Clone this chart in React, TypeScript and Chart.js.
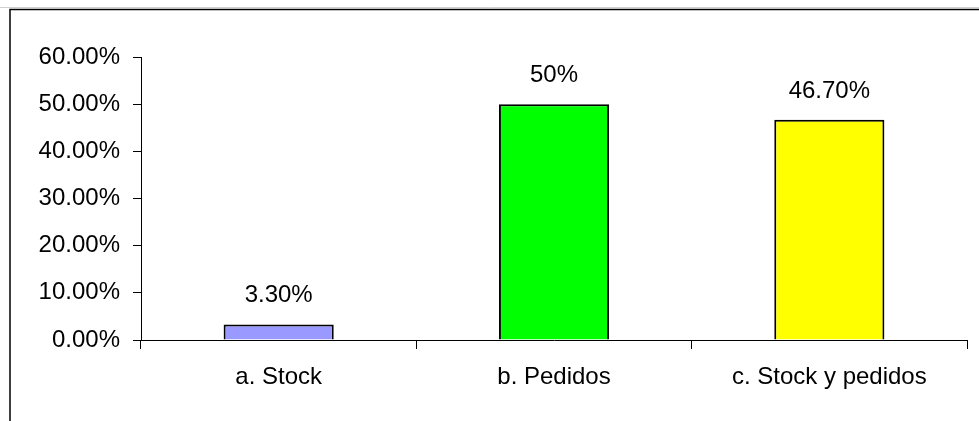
import React, { useEffect, useRef } from "react";
import { Chart, registerables } from "chart.js";

Chart.register(...registerables);

const categories = ["a. Stock", "b. Pedidos", "c. Stock y pedidos"];
const values = [3.3, 50, 46.7];
const valueLabels = ["3.30%", "50%", "46.70%"];
const barColors = ["#9999FF", "#00FF00", "#FFFF00"];
const yMin = 0;
const yMax = 60;
const yStep = 10;

const FONT = "'Liberation Sans', Arial, sans-serif";

export default function App() {
  const ref = useRef<HTMLCanvasElement | null>(null);

  useEffect(() => {
    if (!ref.current) return;
    const labelPlugin = {
      id: "valueLabels",
      afterDatasetsDraw(chart: any) {
        const ctx = chart.ctx;
        const meta = chart.getDatasetMeta(0);
        ctx.save();
        ctx.font = `24px ${FONT}`;
        ctx.fillStyle = "#000";
        ctx.textAlign = "center";
        ctx.textBaseline = "alphabetic";
        meta.data.forEach((bar: any, i: number) => {
          ctx.fillText(valueLabels[i], bar.x, bar.y - 22);
        });
        ctx.restore();
      },
    };
    const framePlugin = {
      id: "frame",
      afterDraw(chart: any) {
        const ctx = chart.ctx;
        ctx.save();
        ctx.strokeStyle = "#d0d0d0";
        ctx.lineWidth = 1;
        ctx.beginPath();
        ctx.moveTo(0, 7.5);
        ctx.lineTo(chart.width, 7.5);
        ctx.stroke();
        ctx.strokeStyle = "#000";
        ctx.lineWidth = 1.5;
        ctx.beginPath();
        ctx.moveTo(10, chart.height);
        ctx.lineTo(10, 9.5);
        ctx.lineTo(chart.width, 9.5);
        ctx.stroke();
        ctx.restore();
      },
    };
    const chart = new Chart(ref.current, {
      type: "bar",
      data: {
        labels: categories,
        datasets: [
          {
            data: values,
            backgroundColor: barColors,
            borderColor: "#000",
            borderWidth: 2,
            categoryPercentage: 1,
            barPercentage: 0.4,
          },
        ],
      },
      options: {
        responsive: false,
        animation: false,
        layout: { padding: { left: 0, right: 12, top: 57, bottom: 0 } },
        plugins: {
          legend: { display: false },
          tooltip: { enabled: false },
        },
        scales: {
          x: {
            grid: {
              display: true,
              drawOnChartArea: false,
              drawTicks: true,
              tickLength: 9,
              offset: true,
              color: "#000",
            },
            border: { display: true, color: "#000", width: 1 },
            ticks: {
              color: "#000",
              font: { family: FONT, size: 24 },
              padding: 14,
              maxRotation: 0,
            },
            afterFit(scale: any) {
              scale.height = 81;
            },
          },
          y: {
            min: yMin,
            max: yMax,
            grid: {
              display: true,
              drawOnChartArea: false,
              drawTicks: true,
              tickLength: 8,
              color: "#000",
            },
            border: { display: true, color: "#000", width: 1 },
            ticks: {
              stepSize: yStep,
              color: "#000",
              font: { family: FONT, size: 24 },
              padding: 13,
              callback: (v: any) => Number(v).toFixed(2) + "%",
            },
            afterFit(scale: any) {
              scale.width = 141;
            },
          },
        },
      },
      plugins: [labelPlugin, framePlugin],
    });
    return () => chart.destroy();
  }, []);

  return (
    <div style={{ position: "absolute", left: 0, top: 0, width: 979, height: 421, background: "#fff" }}>
      <canvas ref={ref} width={979} height={421} style={{ display: "block" }} />
    </div>
  );
}
